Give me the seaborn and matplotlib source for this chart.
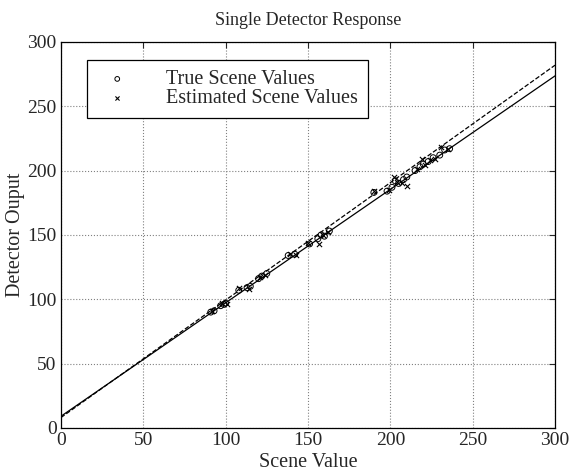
#Single detector response plot
import numpy as np
import pandas as pd
import matplotlib
matplotlib.use("Agg")
import matplotlib.pyplot as plt
import seaborn as sns

#data
true_x = [91, 93, 97, 99, 100, 108, 113, 115, 120, 122, 125, 138, 142,
          151, 156, 158, 160, 163, 190, 198, 201, 203, 205, 208, 210,
          215, 218, 220, 223, 226, 230, 233, 236]
true_y = [90, 91, 95, 96, 97, 107, 109, 110, 116, 118, 120, 134, 135,
          143, 147, 150, 149, 153, 183, 184, 187, 192, 190, 193, 195,
          200, 203, 205, 207, 210, 212, 216, 217]
est_x = [92, 98, 101, 108, 114, 121, 124, 139, 143, 150, 157, 159, 162,
         190, 199, 202, 204, 207, 210, 216, 219, 221, 224, 227, 231, 235]
est_y = [91, 97, 96, 109, 108, 117, 119, 135, 134, 144, 143, 150, 152,
         184, 185, 195, 191, 190, 188, 201, 209, 204, 208, 209, 218, 217]

solid_b, solid_m = 9.0, 0.882
dash_b, dash_m = 8.0, 0.913

sns.set_style('white')
plt.rcParams['font.family'] = ['Liberation Serif', 'DejaVu Serif']
plt.rcParams['xtick.direction'] = 'in'
plt.rcParams['ytick.direction'] = 'in'

fig = plt.figure(figsize=(5.74, 4.76), dpi=100)
ax = fig.add_axes([0.106, 0.101, 0.861, 0.811])

xs = np.array([0, 300])
lines = pd.DataFrame({'x': np.concatenate([xs, xs]),
                      'y': np.concatenate([solid_b + solid_m * xs, dash_b + dash_m * xs]),
                      'fit': ['solid'] * 2 + ['dash'] * 2})
sns.lineplot(data=lines[lines.fit == 'solid'], x='x', y='y', color='black', lw=0.9, ax=ax, legend=False)
sns.lineplot(data=lines[lines.fit == 'dash'], x='x', y='y', color='black', lw=0.9, ls='--', ax=ax, legend=False)

sns.scatterplot(x=true_x, y=true_y, marker='o', s=18, facecolor='none', edgecolor='black',
                linewidth=0.7, ax=ax, label='True Scene Values', zorder=3)
sns.scatterplot(x=est_x, y=est_y, marker='x', s=14, color='black', linewidth=0.8,
                ax=ax, label='Estimated Scene Values', zorder=3)

ax.set_xlim(0, 300)
ax.set_ylim(0, 300)
ax.set_xticks(range(0, 301, 50))
ax.set_yticks(range(0, 301, 50))
ax.grid(True, color='gray', ls=':', lw=0.8)
ax.tick_params(top=True, right=True, labelsize=14, length=4, width=0.8, pad=3)
for s in ax.spines.values():
    s.set_color('black')
    s.set_linewidth(0.9)

ax.set_title('Single Detector Response', fontsize=13, pad=12)
ax.set_xlabel('Scene Value', fontsize=14.5, labelpad=3)
ax.set_ylabel('Detector Ouput', fontsize=14.5, labelpad=2)

leg = ax.legend(loc='upper left', bbox_to_anchor=(0.053, 0.953), borderaxespad=0,
                fontsize=14.5, frameon=True, fancybox=False, edgecolor='black', framealpha=1,
                handletextpad=1.4, handlelength=2.0, borderpad=0.5, labelspacing=0.0,
                markerscale=0.8)
leg.get_frame().set_linewidth(0.9)

plt.savefig('out.png', dpi=100)
